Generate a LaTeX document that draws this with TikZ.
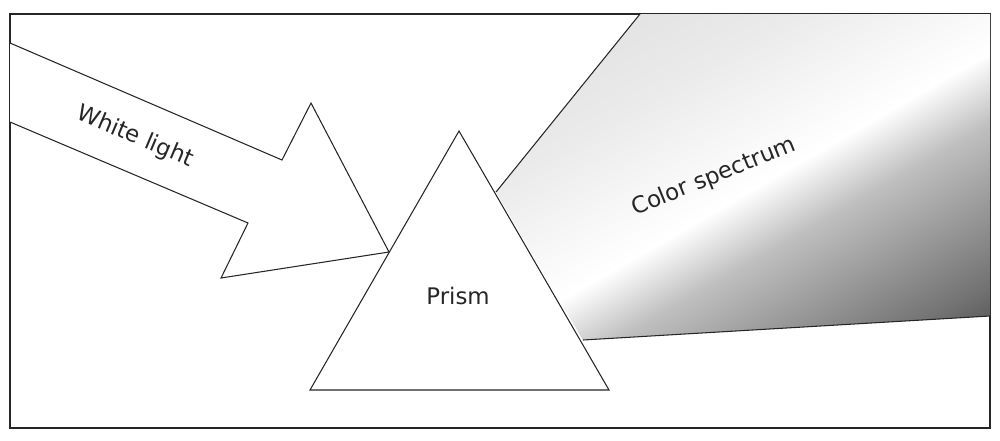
\documentclass[tikz,border=0pt]{standalone}
\usepackage{fontspec}
\setmainfont{DejaVu Sans}
\pgfdeclarehorizontalshading{spec}{100bp}{color(0bp)=(black!18); color(35bp)=(black!8); color(52bp)=(white); color(60bp)=(black!25); color(78bp)=(black!55); color(100bp)=(black)}
\begin{document}
\begin{tikzpicture}[x=0.02cm,y=-0.02cm,line join=miter,
  outline/.style={draw=black!85,line width=0.6pt},
  lbl/.style={font=\fontsize{13}{15}\selectfont,text=black!85}]
\useasboundingbox (0,0) rectangle (1000,440);
\draw[outline] (10,14) rectangle (990,428);
% spectrum
\path[shading=spec,shading angle=-60] (496,192) -- (640,14) -- (990,14) -- (990,316) -- (583,340) -- cycle;
\draw[outline] (496,192) -- (640,14);
\draw[outline] (990,316) -- (583,340);
% arrow
\draw[outline,fill=white] (10,43) -- (282,160) -- (311,103) -- (389,252) -- (221,278) -- (248,223) -- (10,122);
% prism
\draw[outline,fill=white] (459,131) -- (310,390) -- (609,390) -- cycle;
\node[lbl,rotate=-23] (wl) at (135,137) {White light};
\node[lbl] (pr) at (458,296) {Prism};
\node[lbl,rotate=22] (cs) at (714,177) {Color spectrum};
\end{tikzpicture}
\end{document}
